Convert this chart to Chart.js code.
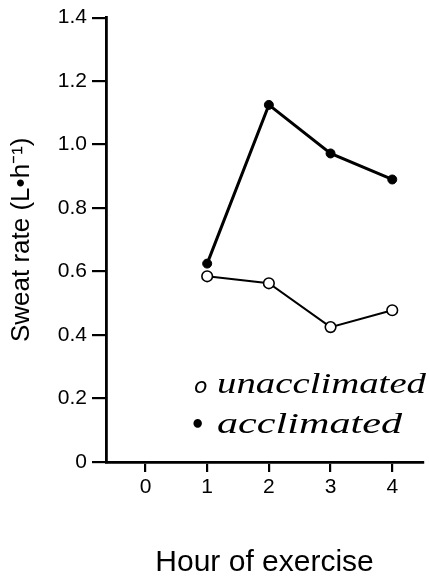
<!DOCTYPE html>
<html>
<head>
<meta charset="utf-8">
<script src="https://cdn.jsdelivr.net/npm/chart.js@4.4.1/dist/chart.umd.min.js"></script>
<style>
  html, body { margin: 0; padding: 0; background: #ffffff; }
  #wrap { width: 430px; height: 586px; }
</style>
</head>
<body>
<div id="wrap"><canvas id="c" width="430" height="586"></canvas></div>
<script>
// ---- data ----
const hours = [1, 2, 3, 4];
const acclimated = [0.625, 1.125, 0.972, 0.89];
const unacclimated = [0.585, 0.563, 0.425, 0.478];
const xTickValues = [0, 1, 2, 3, 4];
const yTickValues = [0, 0.2, 0.4, 0.6, 0.8, 1.0, 1.2, 1.4];
const yTickLabels = ["0", "0.2", "0.4", "0.6", "0.8", "1.0", "1.2", "1.4"];
const seriesNames = ["unacclimated", "acclimated"];
const legendSymbols = ["o", "\u2022"];
const xTitle = "Hour of exercise";
const yTitle = "Sweat rate (L\u2022h\u207B\u00B9)";

const toPoints = (xs, ys) => xs.map((x, i) => ({ x: x, y: ys[i] }));

const handLegend = {
  id: 'handLegend',
  afterDraw(chart) {
    const ctx = chart.ctx;
    ctx.save();
    ctx.fillStyle = '#000';
    ctx.textBaseline = 'alphabetic';
    ctx.textAlign = 'left';
    const rows = [
      { sym: legendSymbols[0], text: seriesNames[0], sx: 194, tx: 217, y: 393, w: 209, symFont: 'italic 22px "DejaVu Sans"' },
      { sym: legendSymbols[1], text: seriesNames[1], sx: 190, tx: 217, y: 433, w: 185, symFont: 'bold 24px "DejaVu Sans"' }
    ];
    rows.forEach(r => {
      ctx.font = r.symFont;
      ctx.fillText(r.sym, r.sx, r.y);
      ctx.font = 'italic 30px "Liberation Serif"';
      const m = ctx.measureText(r.text).width;
      ctx.save();
      ctx.translate(r.tx, r.y);
      ctx.scale(r.w / m, 1);
      ctx.fillText(r.text, 0, 0);
      ctx.restore();
    });
    ctx.restore();
  }
};

const tickFont = { family: '"Liberation Sans", Arial, sans-serif', size: 21 };

new Chart(document.getElementById('c'), {
  type: 'line',
  data: {
    datasets: [
      {
        label: seriesNames[1],
        data: toPoints(hours, acclimated),
        borderColor: '#000',
        backgroundColor: '#000',
        borderWidth: 3,
        pointRadius: 4.5,
        pointBackgroundColor: '#000',
        pointBorderColor: '#000',
        pointBorderWidth: 1,
        tension: 0
      },
      {
        label: seriesNames[0],
        data: toPoints(hours, unacclimated),
        borderColor: '#000',
        backgroundColor: '#fff',
        borderWidth: 2,
        pointRadius: 5.3,
        pointBackgroundColor: '#fff',
        pointBorderColor: '#000',
        pointBorderWidth: 1.6,
        tension: 0
      }
    ]
  },
  plugins: [handLegend],
  options: {
    responsive: false,
    animation: false,
    devicePixelRatio: 1,
    layout: { padding: { top: 17, right: 2, left: 0, bottom: 0 } },
    plugins: { legend: { display: false }, tooltip: { enabled: false } },
    scales: {
      x: {
        type: 'linear',
        min: -0.64,
        max: 4.5,
        afterBuildTicks: s => { s.ticks = xTickValues.map(v => ({ value: v })); },
        afterFit: s => { s.height = 124; },
        border: { display: true, color: '#000', width: 2.8 },
        grid: { drawOnChartArea: false, drawTicks: true, tickLength: 10, color: '#000', lineWidth: 2.2 },
        ticks: { color: '#000', font: tickFont, padding: 3, maxRotation: 0, callback: v => String(v) },
        title: { display: true, text: xTitle, color: '#000',
                 font: { family: '"Liberation Sans", Arial, sans-serif', size: 30 },
                 padding: { top: 0, bottom: 5 } }
      },
      y: {
        type: 'linear',
        min: 0,
        max: 1.4,
        afterBuildTicks: s => { s.ticks = yTickValues.map(v => ({ value: v })); },
        afterFit: s => { s.width = 106; },
        border: { display: true, color: '#000', width: 2.8 },
        grid: { drawOnChartArea: false, drawTicks: true, tickLength: 14, color: '#000', lineWidth: 2.2 },
        ticks: { color: '#000', font: tickFont, padding: 5,
                 callback: (v) => { const i = yTickValues.findIndex(t => Math.abs(t - v) < 1e-6); return i >= 0 ? yTickLabels[i] : ''; } },
        title: { display: true, text: yTitle, color: '#000',
                 font: { family: '"Liberation Sans", Arial, sans-serif', size: 26 },
                 padding: { top: 6, bottom: 0 } }
      }
    }
  }
});
</script>
</body>
</html>
